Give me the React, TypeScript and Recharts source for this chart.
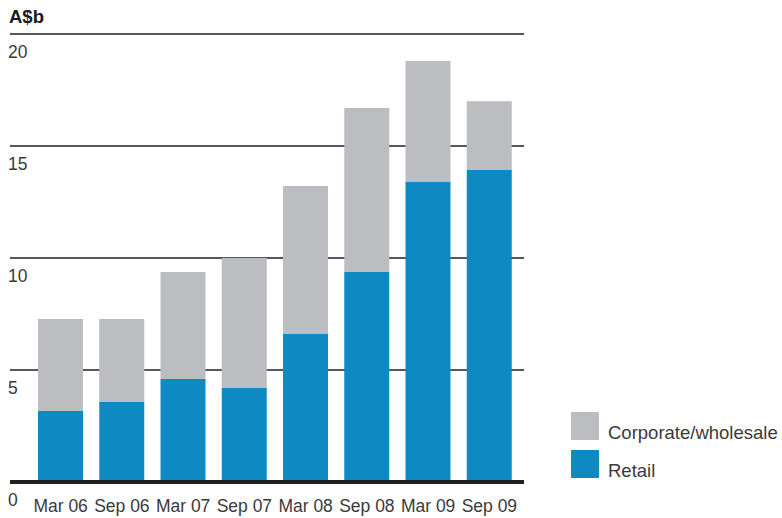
import { BarChart, Bar, XAxis, YAxis, CartesianGrid, ReferenceLine } from "recharts";

const periods = ["Mar 06", "Sep 06", "Mar 07", "Sep 07", "Mar 08", "Sep 08", "Mar 09", "Sep 09"];
const retail = [3.17, 3.57, 4.6, 4.2, 6.61, 9.38, 13.39, 13.93];
const corporate = [4.11, 3.71, 4.78, 5.8, 6.6, 7.32, 5.4, 3.07];
const yTicks = [0, 5, 10, 15, 20];

const data = periods.map((p, i) => ({ period: p, retail: retail[i], corporate: corporate[i] }));

const FONT = "'Liberation Sans', Arial, Helvetica, sans-serif";
const TEXT = "#3a3a3a";
const GREY = "#bcbdc0";
const BLUE = "#0e8ac3";
const DARK = "#231f20";

const YTick = (props: any) => (
  <text x={8} y={props.y + 23.5} fontSize={17.5} fill={TEXT} fontFamily={FONT} textAnchor="start">
    {props.payload.value}
  </text>
);

const XTick = (props: any) => (
  <text x={props.x} y={512} fontSize={17.5} fill={TEXT} fontFamily={FONT} textAnchor="middle">
    {props.payload.value}
  </text>
);

const legendItems = [
  { label: "Corporate/wholesale", color: GREY },
  { label: "Retail", color: BLUE },
];

export default function App() {
  return (
    <div style={{ position: "absolute", left: 0, top: 0, width: 782, height: 518, background: "#fff" }}>
      <div style={{ position: "absolute", left: 9, top: 6, fontFamily: FONT, fontWeight: "bold", fontSize: 18.5, color: "#1a1a1a" }}>
        A$b
      </div>
      <BarChart
        width={782}
        height={518}
        data={data}
        margin={{ top: 34, right: 258, bottom: 6, left: 0 }}
        barSize={45}
      >
        <CartesianGrid vertical={false} stroke={DARK} strokeWidth={1.3} />
        <XAxis
          dataKey="period"
          axisLine={false}
          tickLine={false}
          height={30}
          padding={{ left: 20, right: 4 }}
          tick={<XTick />}
          interval={0}
        />
        <YAxis
          width={10}
          domain={[0, 20]}
          ticks={yTicks}
          axisLine={false}
          tickLine={false}
          tick={<YTick />}
        />
        <ReferenceLine y={0} stroke={DARK} strokeWidth={4} />
        <Bar dataKey="retail" stackId="a" fill={BLUE} isAnimationActive={false} />
        <Bar dataKey="corporate" stackId="a" fill={GREY} isAnimationActive={false} />
      </BarChart>
      <div style={{ position: "absolute", left: 571, top: 412, fontFamily: FONT }}>
        {legendItems.map((it) => (
          <div key={it.label} style={{ display: "flex", alignItems: "flex-end", height: 28, marginBottom: 10 }}>
            <div style={{ width: 28, height: 28, background: it.color }} />
            <span style={{ marginLeft: 9, fontSize: 18.5, color: TEXT, lineHeight: "18px", position: "relative", top: 2, whiteSpace: "nowrap" }}>
              {it.label}
            </span>
          </div>
        ))}
      </div>
    </div>
  );
}
